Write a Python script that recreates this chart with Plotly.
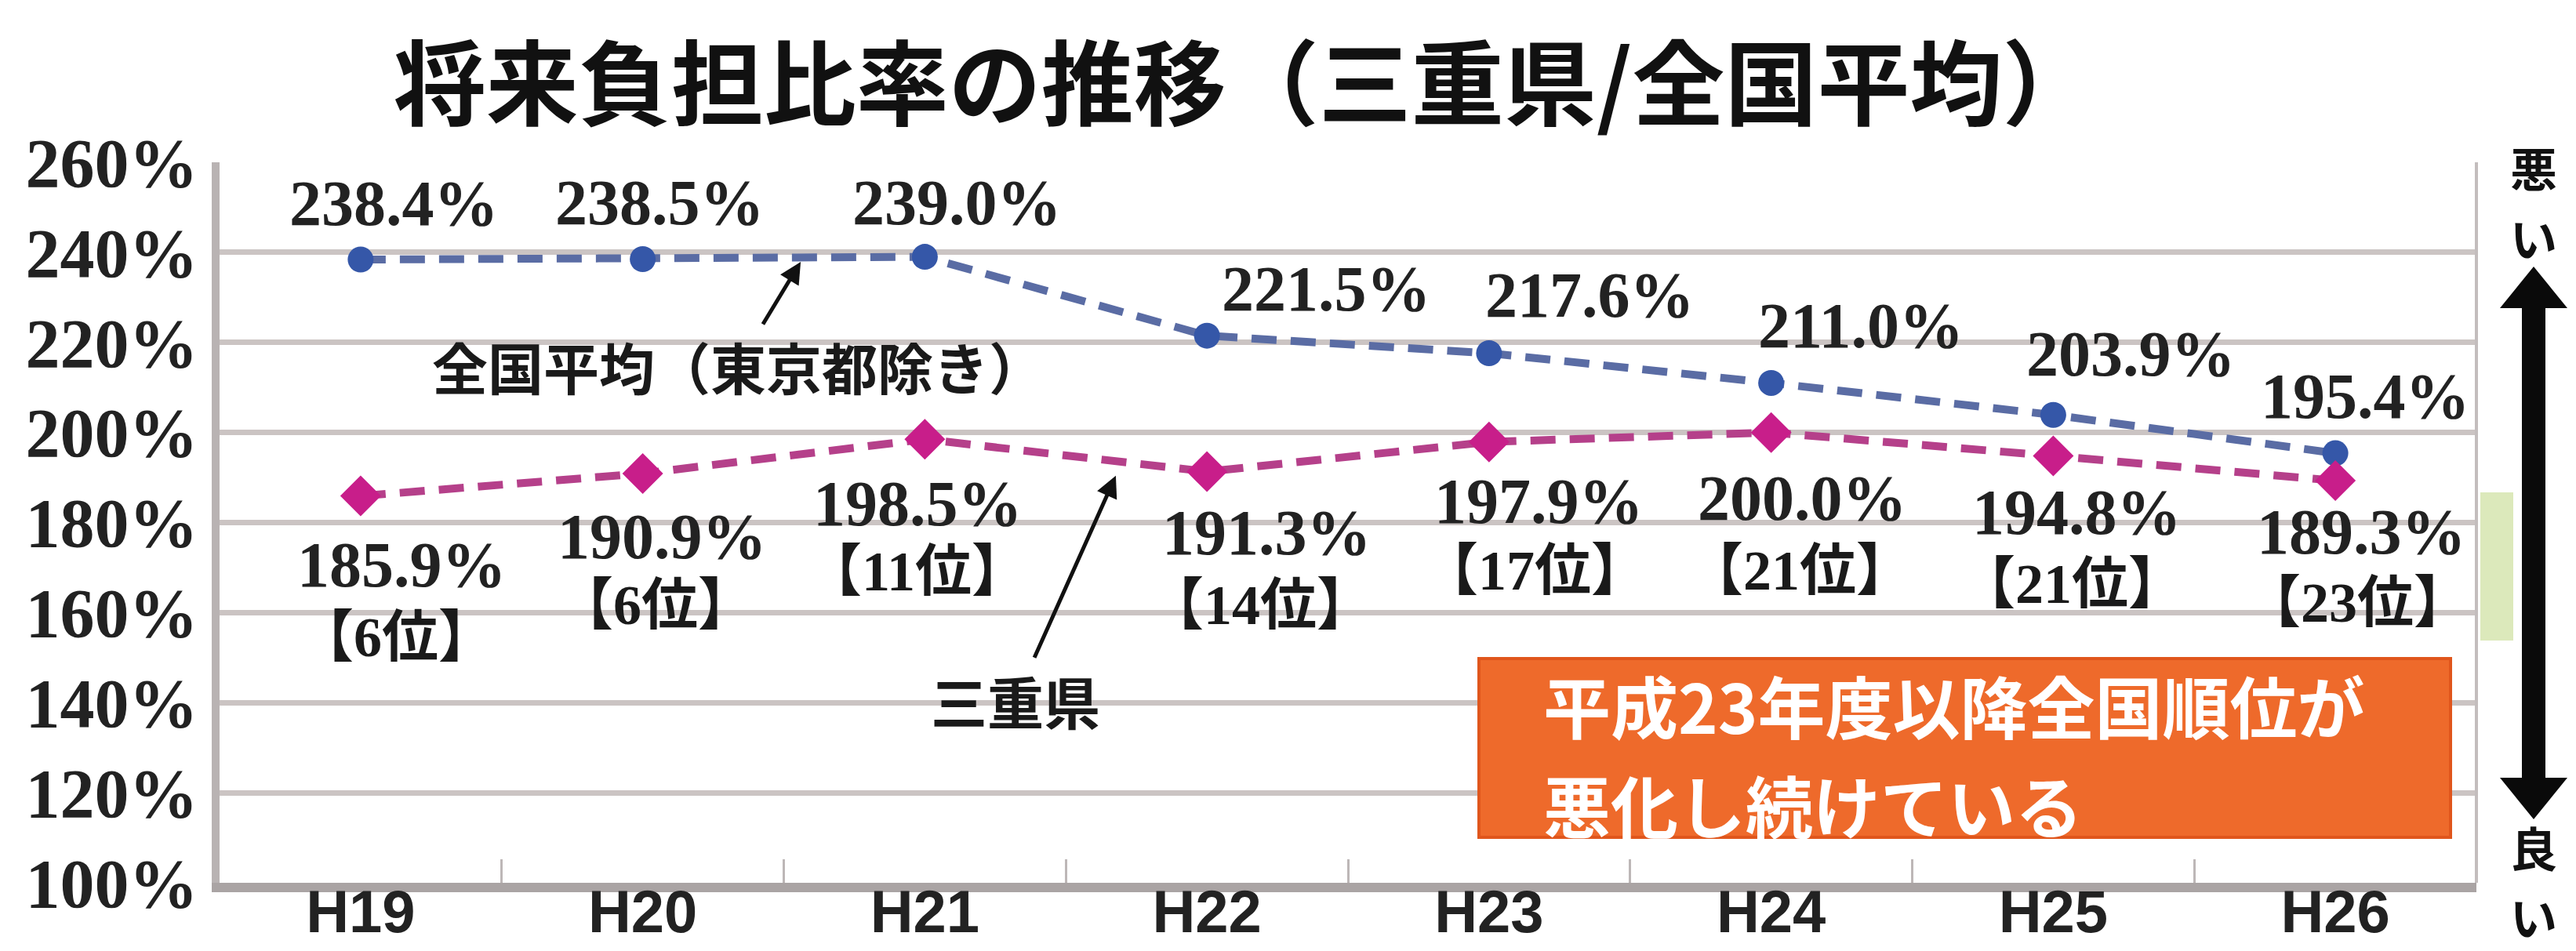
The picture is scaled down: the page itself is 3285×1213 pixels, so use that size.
import plotly.graph_objects as go

# ---- data ----
years = ["H19", "H20", "H21", "H22", "H23", "H24", "H25", "H26"]
national_avg = [238.4, 238.5, 239.0, 221.5, 217.6, 211.0, 203.9, 195.4]
mie = [185.9, 190.9, 198.5, 191.3, 197.9, 200.0, 194.8, 189.3]
mie_rank = [6, 6, 11, 14, 17, 21, 21, 23]
y_ticks = [100, 120, 140, 160, 180, 200, 220, 240, 260]

title_text = "将来負担比率の推移（三重県/全国平均）"
national_name = "全国平均（東京都除き）"
mie_name = "三重県"
note_lines = ["平成23年度以降全国順位が", "悪化し続けている"]
side_labels = ["悪", "い", "良", "い"]

# ---- label offsets (pixels) ----
nat_dx = [43, 22, 41, 152, 129, 114, 99, 38]
nat_dy = [72, 72, 69, 60, 74, 73, 78, 73]
mie_dx = [53, 25, -9, 76, 64, 40, 30, 33]
mie_dy = [-88, -81, -82, -78, -76, -84, -72, -65]
rank_dx = [45, 16, -10, 68, 58, 36, 24, 28]
rank_dy = [-180, -168, -169, -170, -164, -176, -164, -156]

W, H = 3285, 1213
L, R, T, B = 280, 127, 207, 87

SERIF = "Liberation Serif, Noto Sans CJK JP, serif"
SANS_JP = "Noto Sans CJK JP, sans-serif"


def px(xp):
    return (xp - L) / (W - L - R)


def py_(yp):
    return (H - B - yp) / (H - T - B)


fig = go.Figure()
fig.add_trace(go.Scatter(
    x=years, y=national_avg, mode="lines+markers", name=national_name,
    line=dict(color="#5a6ca4", width=10, dash="32px,18px"),
    marker=dict(symbol="circle", size=33, color="#3557a8"),
    showlegend=False, cliponaxis=False,
))
fig.add_trace(go.Scatter(
    x=years, y=mie, mode="lines+markers", name=mie_name,
    line=dict(color="#b5408a", width=10, dash="32px,18px"),
    marker=dict(symbol="diamond", size=40, color="#c81e8a"),
    showlegend=False, cliponaxis=False,
))

ann = []
for i, yr in enumerate(years):
    ann.append(dict(x=yr, y=national_avg[i], xref="x", yref="y",
                    text=f"{national_avg[i]:.1f}%", showarrow=False,
                    xshift=nat_dx[i], yshift=nat_dy[i],
                    font=dict(family=SERIF, size=82, color="#222222", weight="bold")))
    ann.append(dict(x=yr, y=mie[i], xref="x", yref="y",
                    text=f"{mie[i]:.1f}%", showarrow=False,
                    xshift=mie_dx[i], yshift=mie_dy[i],
                    font=dict(family=SERIF, size=82, color="#222222", weight="bold")))
    ann.append(dict(x=yr, y=mie[i], xref="x", yref="y",
                    text=f"【{mie_rank[i]}位】", showarrow=False,
                    xshift=rank_dx[i], yshift=rank_dy[i],
                    font=dict(family=SERIF, size=72, color="#1a1a1a", weight="bold")))

# callout labels with arrows (arrow tip on the line, text placed at the tail)
ann.append(dict(x=1.56, y=237.9, xref="x", yref="y", text=national_name,
                showarrow=True, ax=-80, ay=132, arrowhead=2, arrowsize=1.1, arrowwidth=5,
                arrowcolor="#111111",
                font=dict(family=SANS_JP, size=71, color="#1a1a1a", weight="bold")))
ann.append(dict(x=2.677, y=190.4, xref="x", yref="y", text=mie_name,
                showarrow=True, ax=-128, ay=286, arrowhead=2, arrowsize=1.1, arrowwidth=5,
                arrowcolor="#111111",
                font=dict(family=SANS_JP, size=72, color="#1a1a1a", weight="bold")))

# orange note (two lines)
for txt, yp in zip(note_lines, [899, 1025]):
    ann.append(dict(x=px(1966), y=py_(yp), xref="paper", yref="paper", xanchor="left",
                    yanchor="middle", text=txt, showarrow=False,
                    font=dict(family=SANS_JP, size=86, color="#ffffff", weight="bold")))

# right side bad/good labels
for txt, yp in zip(side_labels, [213, 301, 1079, 1167]):
    ann.append(dict(x=px(3231), y=py_(yp), xref="paper", yref="paper", text=txt,
                    showarrow=False, xanchor="center", yanchor="middle",
                    font=dict(family=SANS_JP, size=60, color="#111111", weight="bold")))

shapes = [
    # orange box
    dict(type="rect", xref="paper", yref="paper",
         x0=px(1886), x1=px(3125), y0=py_(1068), y1=py_(840),
         fillcolor="#ee6a2b", line=dict(color="#e0561c", width=4), layer="above"),
    # right border line
    dict(type="line", xref="paper", yref="paper", x0=1, x1=1, y0=0, y1=1,
         line=dict(color="#c3bdbd", width=4)),
    # green strip
    dict(type="rect", xref="paper", yref="paper",
         x0=px(3163), x1=px(3205), y0=py_(817), y1=py_(628),
         fillcolor="#dce9bb", line=dict(width=0)),
    # arrow shaft
    dict(type="rect", xref="paper", yref="paper",
         x0=px(3216), x1=px(3246), y0=py_(1000), y1=py_(385),
         fillcolor="#0a0a0a", line=dict(width=0)),
    # arrow heads
    dict(type="path", xref="paper", yref="paper",
         path=f"M {px(3231)},{py_(340)} L {px(3188)},{py_(393)} L {px(3274)},{py_(393)} Z",
         fillcolor="#0a0a0a", line=dict(width=0)),
    dict(type="path", xref="paper", yref="paper",
         path=f"M {px(3231)},{py_(1045)} L {px(3188)},{py_(992)} L {px(3274)},{py_(992)} Z",
         fillcolor="#0a0a0a", line=dict(width=0)),
]

fig.update_layout(
    width=W, height=H,
    margin=dict(l=L, r=R, t=T, b=B, autoexpand=False),
    paper_bgcolor="#ffffff", plot_bgcolor="#ffffff",
    title=dict(text=title_text, x=0.483, xanchor="center", y=1 - 110 / H, yanchor="middle",
               yref="container",
               font=dict(family=SANS_JP, size=118, color="#111111", weight="bold")),
    annotations=ann, shapes=shapes,
    xaxis=dict(type="category", categoryorder="array", categoryarray=years,
               range=[-0.5, 7.5], showgrid=False, zeroline=False, automargin=False,
               showline=True, linecolor="#aaa4a4", linewidth=12,
               ticks="inside", tickson="boundaries", ticklen=30, tickwidth=3, tickcolor="#bdb7b7",
               tickfont=dict(family="Liberation Sans, sans-serif", size=76, color="#222222", weight="bold"),
               ticklabelstandoff=-40),
    yaxis=dict(range=[100, 260], tickvals=y_ticks, ticktext=[f"{v}%" for v in y_ticks],
               showgrid=True, gridcolor="#cbc4c3", gridwidth=7, zeroline=False, automargin=False,
               showline=True, linecolor="#b9b3b3", linewidth=10,
               ticks="", tickfont=dict(family=SERIF, size=88, color="#222222", weight="bold"),
               ticklabelstandoff=0),
)

fig.write_html("out.html")
